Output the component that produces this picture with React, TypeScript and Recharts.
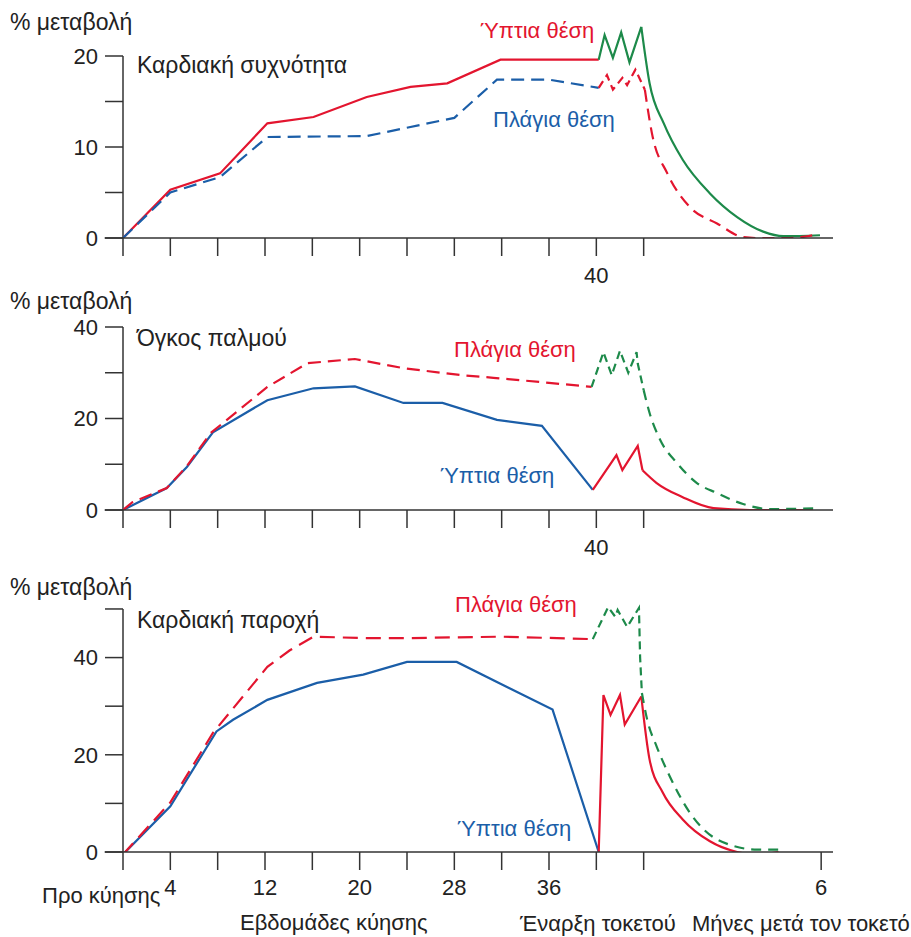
import React from 'react'
import { LineChart, Line, XAxis, YAxis, ReferenceLine } from 'recharts'

type Pt = [number, number]

const RED = '#e3152f'
const BLUE = '#1b5ea8'
const GREEN = '#1d8a4a'
const AXIS = '#333'
const TEXT = '#222'
const FONT = '"Liberation Sans", Arial, Helvetica, sans-serif'

// x = weeks of pregnancy; after week 40 the same scale carries labour and the months after birth
const weekTicks = [0, 4, 8, 12, 16, 20, 24, 28, 32, 36, 40, 44]
const bottomTicks = [...weekTicks, 59]
const topTickLabels: Record<number, string> = { 40: '40' }
const bottomTickLabels: Record<number, string> = { 4: '4', 12: '12', 20: '20', 28: '28', 36: '36', 59: '6' }

// Καρδιακή συχνότητα (% μεταβολή)
const hrSupine: Pt[] = [[0, 0], [4, 5.3], [8.2, 7.1], [12.2, 12.6], [16.1, 13.3], [20.6, 15.5], [24.3, 16.6], [27.4, 17], [31.9, 19.6], [40.2, 19.6]]
const hrLateral: Pt[] = [[0, 0], [4, 5], [8.2, 6.7], [12.2, 11.1], [20.6, 11.2], [28, 13.2], [31.6, 17.4], [36, 17.4], [40.2, 16.5]]
const hrSupineLabor: Pt[] = [[40.2, 19.6], [40.7, 22.3], [41.4, 19.8], [42.1, 22.6], [42.8, 19.3], [43.8, 23.2]]
const hrSupinePost: Pt[] = [[43.8, 23.2], [44.5, 17], [45.7, 12.6], [47.3, 8.6], [49.6, 4.9], [51.9, 2.3], [54.1, 0.7], [55.8, 0.2], [58.9, 0.3]]
const hrLateralLabor: Pt[] = [[40.2, 16.5], [40.9, 17.9], [41.4, 16.3], [42.2, 17.6], [42.6, 16.8], [43.3, 18.5], [44.1, 16.3]]
const hrLateralPost: Pt[] = [[44.1, 16.3], [44.7, 11.5], [46, 7.1], [47.9, 3.4], [50.2, 1.6], [52.4, 0.1], [53.6, 0], [56.4, 0], [58.3, 0.3]]

// Όγκος παλμού
const svSupine: Pt[] = [[0, 0], [3.7, 4.8], [5.4, 9.4], [7.6, 17], [12.2, 24], [16.1, 26.6], [19.6, 27], [23.7, 23.4], [27, 23.4], [31.6, 19.7], [35.4, 18.4], [39.7, 4.4]]
const svLateral: Pt[] = [[0, 0], [0.8, 1.7], [3.7, 4.8], [5.4, 9.6], [7.4, 16.8], [12.2, 26.9], [15.6, 32.1], [19.6, 33], [23.7, 31], [28.5, 29.5], [31.3, 28.9], [36, 27.8], [39.6, 26.9]]
const svSupineLabor: Pt[] = [[39.7, 4.4], [41.7, 12], [42.2, 8.7], [43.5, 14], [43.9, 8.7]]
const svSupinePost: Pt[] = [[43.9, 8.7], [45.1, 5.9], [47.3, 2.8], [49.9, 0.4], [53, 0], [58.3, 0]]
const svLateralLabor: Pt[] = [[39.6, 26.9], [40.6, 34.5], [41.3, 29.5], [42, 34.8], [42.7, 30], [43.4, 34.5], [43.5, 32], [44, 26.2]]
const svLateralPost: Pt[] = [[44, 26.2], [44.5, 21.2], [45.4, 15.3], [46.8, 10.3], [48.5, 5.9], [50.2, 3.7], [52.4, 1.3], [54.7, 0.2], [58.7, 0.4]]

// Καρδιακή παροχή
const coSupine: Pt[] = [[0, -0.5], [4, 9.4], [7.9, 24.8], [9.3, 27.2], [12.2, 31.3], [16.4, 34.8], [20.3, 36.5], [24, 39.1], [28.2, 39.1], [36.3, 29.3], [40.2, 0]]
const coLateral: Pt[] = [[0, -0.5], [4, 10.2], [7.6, 24.5], [12.2, 38.1], [14.1, 41.5], [16.1, 44.3], [20.6, 44], [24, 44], [31.9, 44.3], [39.7, 43.8]]
const coSupineLabor: Pt[] = [[40.2, 0], [40.6, 32.3], [41.2, 28.2], [42, 32.3], [42.4, 26.2], [43.8, 32]]
const coSupinePost: Pt[] = [[43.8, 32], [44.5, 19], [45.6, 12.3], [47.3, 6.7], [49.6, 2.2], [51.9, 0], [53.6, -0.5], [55.4, 0]]
const coLateralLabor: Pt[] = [[39.7, 43.8], [41, 50.4], [41.6, 48.4], [41.8, 49.8], [42.6, 46.3], [43.6, 50.2], [43.7, 40], [43.85, 32.7]]
const coLateralPost: Pt[] = [[43.85, 32.7], [44.3, 27.2], [45.1, 21.7], [46.2, 15.6], [47.9, 8.1], [50.2, 2.6], [53.6, 0.5], [55.7, 0.5]]

const toRows = (pts: Pt[]) => pts.map(([x, y]) => ({ x, y }))

interface Series {
    name: string
    data: Pt[]
    color: string
    dash?: string
    smooth?: boolean
}

interface PanelProps {
    top: number
    height: number
    marginTop: number
    marginBottom: number
    yMax: number
    yDomainMax: number
    yTicks: number[]
    yLabels: number[]
    xTicks: number[]
    xLabels: Record<number, string>
    tickMargin: number
    series: Series[]
}

function Panel({ top, height, marginTop, marginBottom, yMax, yDomainMax, yTicks, yLabels, xTicks, xLabels, tickMargin, series }: PanelProps) {
    const tickStyle = { fontSize: 22, fill: TEXT, fontFamily: FONT }
    return (
        <div style={{ position: 'absolute', left: 0, top }}>
            <LineChart width={911} height={height} margin={{ top: marginTop, right: 78, bottom: marginBottom, left: 63 }}>
                <XAxis
                    type="number"
                    dataKey="x"
                    domain={[0, 60]}
                    ticks={xTicks}
                    interval={0}
                    allowDataOverflow
                    tickFormatter={(v: number) => xLabels[v] ?? ''}
                    tickSize={18}
                    tickMargin={tickMargin}
                    height={40}
                    stroke={AXIS}
                    strokeWidth={1.5}
                    tick={tickStyle}
                />
                <YAxis
                    type="number"
                    dataKey="y"
                    domain={[0, yDomainMax]}
                    ticks={yTicks}
                    interval={0}
                    allowDataOverflow
                    axisLine={false}
                    tickLine={{ stroke: AXIS, strokeWidth: 1.5 }}
                    tickFormatter={(v: number) => (yLabels.includes(v) ? String(v) : '')}
                    tickSize={18}
                    tickMargin={7}
                    width={60}
                    tick={tickStyle}
                />
                <ReferenceLine
                    segment={[{ x: 0, y: 0 }, { x: 0, y: yMax }]}
                    stroke={AXIS}
                    strokeWidth={1.5}
                    ifOverflow="visible"
                />
                <ReferenceLine
                    segment={[{ x: -1.55, y: 0 }, { x: 0, y: 0 }]}
                    stroke={AXIS}
                    strokeWidth={1.5}
                    ifOverflow="visible"
                />
                {series.map(s => (
                    <Line
                        key={s.name}
                        data={toRows(s.data)}
                        dataKey="y"
                        type={s.smooth ? 'monotone' : 'linear'}
                        stroke={s.color}
                        strokeWidth={2.2}
                        strokeDasharray={s.dash}
                        dot={false}
                        activeDot={false}
                        isAnimationActive={false}
                    />
                ))}
            </LineChart>
        </div>
    )
}

function Txt({ x, y, size = 22, color = TEXT, children }: { x: number; y: number; size?: number; color?: string; children: React.ReactNode }) {
    return (
        <div style={{ position: 'absolute', left: x, top: y, color, fontSize: size, lineHeight: '22px', whiteSpace: 'nowrap' }}>
            {children}
        </div>
    )
}

export default function App() {
    return (
        <div style={{ position: 'absolute', left: 0, top: 0, width: 911, height: 937, background: '#fff', fontFamily: FONT, overflow: 'hidden' }}>
            <Panel
                top={0}
                height={290}
                marginTop={19.6}
                marginBottom={12}
                yMax={20}
                yDomainMax={24}
                yTicks={[0, 5, 10, 15, 20]}
                yLabels={[0, 10, 20]}
                xTicks={weekTicks}
                xLabels={topTickLabels}
                tickMargin={11}
                series={[
                    { name: 'hrSupine', data: hrSupine, color: RED },
                    { name: 'hrLateral', data: hrLateral, color: BLUE, dash: '13 7' },
                    { name: 'hrSupineLabor', data: hrSupineLabor, color: GREEN },
                    { name: 'hrSupinePost', data: hrSupinePost, color: GREEN, smooth: true },
                    { name: 'hrLateralLabor', data: hrLateralLabor, color: RED, dash: '8 5' },
                    { name: 'hrLateralPost', data: hrLateralPost, color: RED, dash: '12 7', smooth: true },
                ]}
            />
            <Panel
                top={280}
                height={280}
                marginTop={47}
                marginBottom={10}
                yMax={40}
                yDomainMax={40}
                yTicks={[0, 10, 20, 30, 40]}
                yLabels={[0, 20, 40]}
                xTicks={weekTicks}
                xLabels={topTickLabels}
                tickMargin={11}
                series={[
                    { name: 'svSupine', data: svSupine, color: BLUE },
                    { name: 'svLateral', data: svLateral, color: RED, dash: '13 7' },
                    { name: 'svSupineLabor', data: svSupineLabor, color: RED },
                    { name: 'svSupinePost', data: svSupinePost, color: RED, smooth: true },
                    { name: 'svLateralLabor', data: svLateralLabor, color: GREEN, dash: '8 5' },
                    { name: 'svLateralPost', data: svLateralPost, color: GREEN, dash: '10 7', smooth: true },
                ]}
            />
            <Panel
                top={560}
                height={345}
                marginTop={39.25}
                marginBottom={13}
                yMax={50}
                yDomainMax={52}
                yTicks={[0, 10, 20, 30, 40, 50]}
                yLabels={[0, 20, 40]}
                xTicks={bottomTicks}
                xLabels={bottomTickLabels}
                tickMargin={9}
                series={[
                    { name: 'coSupine', data: coSupine, color: BLUE },
                    { name: 'coLateral', data: coLateral, color: RED, dash: '15 8' },
                    { name: 'coSupineLabor', data: coSupineLabor, color: RED },
                    { name: 'coSupinePost', data: coSupinePost, color: RED, smooth: true },
                    { name: 'coLateralLabor', data: coLateralLabor, color: GREEN, dash: '8 5' },
                    { name: 'coLateralPost', data: coLateralPost, color: GREEN, dash: '10 7', smooth: true },
                ]}
            />

            <Txt x={10} y={11} size={23}>% μεταβολή</Txt>
            <Txt x={137} y={54} size={23}>Καρδιακή συχνότητα</Txt>
            <Txt x={480} y={20} color={RED}>Ύπτια θέση</Txt>
            <Txt x={493} y={109} color={BLUE}>Πλάγια θέση</Txt>

            <Txt x={10} y={290} size={23}>% μεταβολή</Txt>
            <Txt x={137} y={327} size={23}>Όγκος παλμού</Txt>
            <Txt x={454} y={339} color={RED}>Πλάγια θέση</Txt>
            <Txt x={440} y={465} color={BLUE}>Ύπτια θέση</Txt>

            <Txt x={10} y={576} size={23}>% μεταβολή</Txt>
            <Txt x={137} y={609} size={23}>Καρδιακή παροχή</Txt>
            <Txt x={455} y={594} color={RED}>Πλάγια θέση</Txt>
            <Txt x={457} y={818} color={BLUE}>Ύπτια θέση</Txt>

            <Txt x={42} y={885}>Προ κύησης</Txt>
            <Txt x={240} y={912}>Εβδομάδες κύησης</Txt>
            <Txt x={520} y={913}>Έναρξη τοκετού</Txt>
            <Txt x={692} y={913}>Μήνες μετά τον τοκετό</Txt>
        </div>
    )
}
